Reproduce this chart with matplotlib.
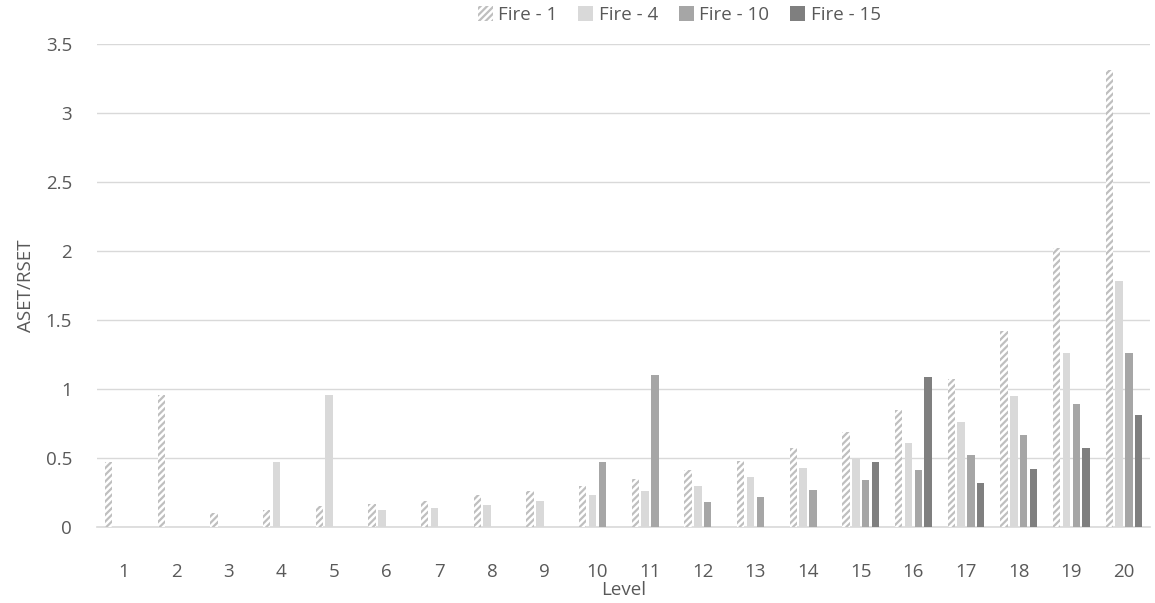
import numpy as np
import matplotlib.pyplot as plt

# ASET/RSET ratio per level for each fire scenario
levels = list(range(1, 21))
fire_1 = [0.47, 0.96, 0.10, 0.12, 0.15, 0.17, 0.19, 0.23, 0.26, 0.30,
          0.35, 0.41, 0.48, 0.57, 0.69, 0.85, 1.07, 1.42, 2.02, 3.31]
fire_4 = [0, 0, 0, 0.47, 0.96, 0.12, 0.14, 0.16, 0.19, 0.23,
          0.26, 0.30, 0.36, 0.43, 0.50, 0.61, 0.76, 0.95, 1.26, 1.78]
fire_10 = [0, 0, 0, 0, 0, 0, 0, 0, 0, 0.47,
           1.10, 0.18, 0.22, 0.27, 0.34, 0.41, 0.52, 0.67, 0.89, 1.26]
fire_15 = [0, 0, 0, 0, 0, 0, 0, 0, 0, 0,
           0, 0, 0, 0, 0.47, 1.09, 0.32, 0.42, 0.57, 0.81]
series_names = ['Fire - 1', 'Fire - 4', 'Fire - 10', 'Fire - 15']

plt.rcParams['font.family'] = ['Open Sans', 'DejaVu Sans']
plt.rcParams['hatch.color'] = '#BFBFBF'
plt.rcParams['hatch.linewidth'] = 1.6
txt = '#595959'

fig = plt.figure(figsize=(11.55, 6.03), dpi=100)
ax = fig.add_axes([0.084, 0.126, 0.912, 0.801])

x = np.array(levels)
w = 0.14
step = 0.185
offsets = (np.arange(4) - 1.5) * step

ax.bar(x + offsets[0], fire_1, w, facecolor='white', edgecolor='#BFBFBF',
       hatch='/////', linewidth=0, label=series_names[0], zorder=3)
ax.bar(x + offsets[1], fire_4, w, color='#D9D9D9', label=series_names[1], zorder=3)
ax.bar(x + offsets[2], fire_10, w, color='#A6A6A6', label=series_names[2], zorder=3)
ax.bar(x + offsets[3], fire_15, w, color='#7F7F7F', label=series_names[3], zorder=3)

ax.set_xlim(0.5, 20.5)
ax.set_ylim(0, 3.5)
ax.set_yticks(np.arange(0, 3.51, 0.5))
ax.set_yticklabels(['0', '0.5', '1', '1.5', '2', '2.5', '3', '3.5'])
ax.set_xticks(x)
ax.grid(axis='y', color='#D9D9D9', linewidth=1, zorder=0)
for s in ['top', 'right', 'left']:
    ax.spines[s].set_visible(False)
ax.spines['bottom'].set_color('#D9D9D9')
ax.spines['bottom'].set_linewidth(1.2)
ax.tick_params(length=0, labelsize=13.5, colors=txt)
ax.tick_params(axis='x', pad=26)
ax.tick_params(axis='y', pad=18)

ax.set_xlabel('Level', fontsize=13.5, color=txt, labelpad=0)
ax.set_ylabel('ASET/RSET', fontsize=13.5, color=txt, labelpad=8)

fig.legend(loc='upper center', bbox_to_anchor=(0.588, 1.018), ncol=4,
           frameon=False, fontsize=13.5, handlelength=0.8, handleheight=0.8,
           handletextpad=0.3, columnspacing=1.1, labelcolor=txt)

fig.savefig('out.png', dpi=100)
